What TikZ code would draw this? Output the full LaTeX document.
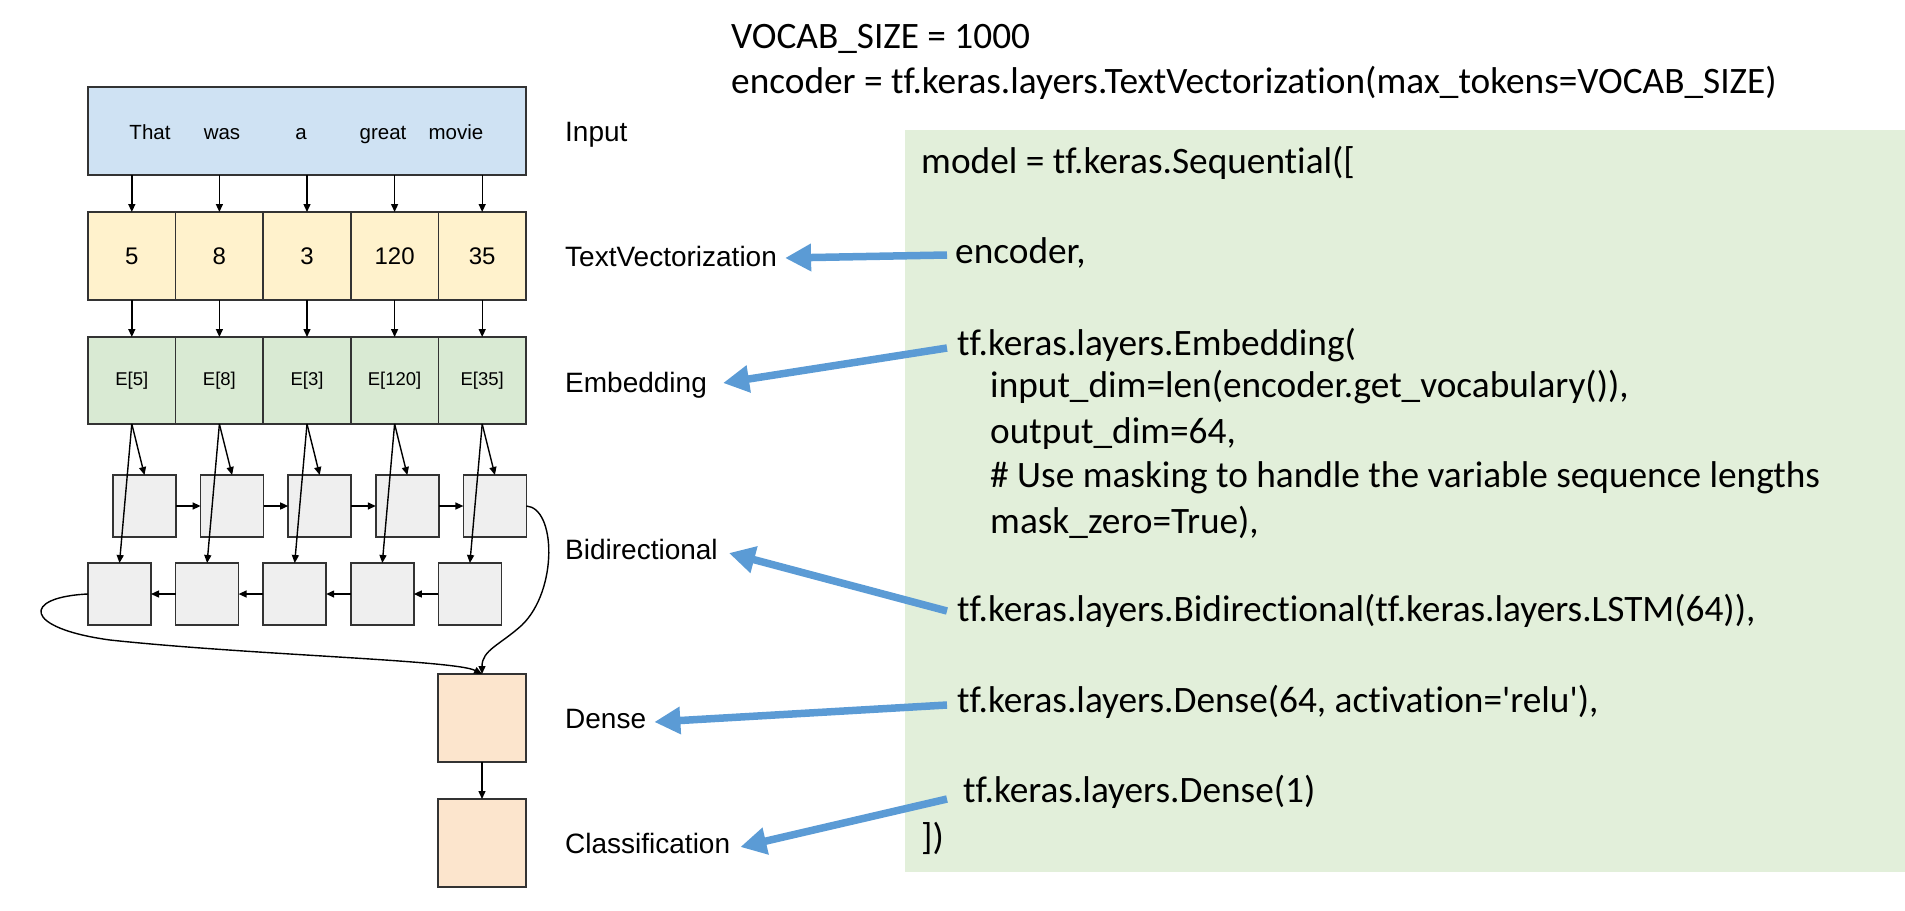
\documentclass[tikz,border=0pt]{standalone}
\usepackage{fontspec}
\setmainfont{Liberation Sans}
\newfontfamily\codefont{Carlito}[Ligatures={NoCommon,TeX}]
\usetikzlibrary{arrows.meta}
\definecolor{inblue}{HTML}{CFE2F3}
\definecolor{tvyel}{HTML}{FFF2CC}
\definecolor{embgr}{HTML}{D9EAD3}
\definecolor{cellgr}{HTML}{EFEFEF}
\definecolor{denseor}{HTML}{FCE5CD}
\definecolor{codebg}{HTML}{E2EFDA}
\definecolor{arrblue}{HTML}{5B9BD5}
\definecolor{edgec}{HTML}{333333}
\tikzset{
  cell/.style={draw=edgec, line width=1.6pt, inner sep=0pt, outer sep=0pt, anchor=north west},
  sq/.style={cell, fill=cellgr, minimum width=63pt, minimum height=62pt},
  word/.style={anchor=base, inner sep=0pt, font=\fontsize{20.5}{24}\selectfont},
  lab/.style={anchor=base west, inner sep=0pt, font=\fontsize{28}{32}\selectfont},
  code/.style={anchor=base west, inner sep=0pt, font=\codefont\fontsize{37.3}{45}\selectfont},
  blk/.style={draw=black, line width=1.4pt, -{Triangle[length=8pt 0 0,width=7pt 0 0]}},
  bluearr/.style={draw=arrblue, line width=7.5pt, -{Triangle[length=26pt 0 0,width=26pt 0 0]}}
}
\begin{document}
\begin{tikzpicture}[x=1pt,y=-1pt]
\useasboundingbox (0,0) rectangle (1905,910);
% code panel
\node[fill=codebg, inner sep=0pt, outer sep=0pt, minimum width=1000pt, minimum height=742pt, anchor=north west] (panel) at (905,130) {};
% top code
\node[code] (cVocab) at (731,48) {VOCAB\_SIZE = 1000};
\node[code] (cEncDef) at (731,93) {encoder = tf.keras.layers.TextVectorization(max\_tokens=VOCAB\_SIZE)};
\node[code] (cModel) at (921,173) {model = tf.keras.Sequential([};
\node[code] (cEnc) at (955,263) {encoder,};
\node[code] (cEmb) at (957,355) {tf.keras.layers.Embedding(};
\node[code] (cIn) at (990,397) {input\_dim=len(encoder.get\_vocabulary()),};
\node[code] (cOut) at (990,443) {output\_dim=64,};
\node[code] (cCom) at (990,487) {\# Use masking to handle the variable sequence lengths};
\node[code] (cMask) at (990,533) {mask\_zero=True),};
\node[code] (cBid) at (957,621) {tf.keras.layers.Bidirectional(tf.keras.layers.LSTM(64)),};
\node[code] (cDense) at (957,712) {tf.keras.layers.Dense(64, activation=\textquotesingle relu\textquotesingle),};
\node[code] (cCls) at (963,802) {tf.keras.layers.Dense(1)};
\node[code] (cEnd) at (921,849) {])};
% input box
\node[cell, fill=inblue, minimum width=438pt, minimum height=88pt] (inp) at (88,87) {};
\node[word] (w1) at (150,139) {That};
\node[word] (w2) at (222,139) {was};
\node[word] (w3) at (301,139) {a};
\node[word] (w4) at (383,139) {great};
\node[word] (w5) at (456,139) {movie};
% vectorization cells
\foreach \i/\t in {1/5,2/8,3/3,4/120,5/35}{
  \node[cell, fill=tvyel, minimum width=87.6pt, minimum height=88pt, font=\fontsize{24}{28}\selectfont] (v\i) at ({88+87.6*(\i-1)},212) {\t};
}
% embedding cells
\foreach \i/\t in {1/5,2/8,3/3,4/120,5/35}{
  \node[cell, fill=embgr, minimum width=87.6pt, minimum height=87pt, font=\fontsize{18.5}{22}\selectfont] (e\i) at ({88+87.6*(\i-1)},337) {E[\t]};
}
% LSTM cells
\foreach \i in {1,...,5}{
  \node[sq] (f\i) at ({113+87.6*(\i-1)},475) {};
  \node[sq] (b\i) at ({88+87.6*(\i-1)},563) {};
}
% dense & classification
\node[cell, fill=denseor, minimum width=88pt, minimum height=88pt] (dense) at (438,674) {};
\node[cell, fill=denseor, minimum width=88pt, minimum height=88pt] (cls) at (438,799) {};
% labels
\node[lab] (lIn) at (565,141) {Input};
\node[lab] (lTV) at (565,266) {TextVectorization};
\node[lab] (lEmb) at (565,392) {Embedding};
\node[lab] (lBid) at (565,559) {Bidirectional};
\node[lab] (lDense) at (565,728) {Dense};
\node[lab] (lCls) at (565,853) {Classification};
% black arrows
\foreach \i in {1,...,5}{
  \draw[blk] (v\i.north |- inp.south) -- (v\i.north);
  \draw[blk] (v\i.south) -- (e\i.north);
  \draw[blk] (e\i.south) -- (f\i.north);
  \draw[blk] (e\i.south) -- (b\i.north);
}
\foreach \i/\j in {1/2,2/3,3/4,4/5}{
  \draw[blk] (f\i.east) -- (f\j.west);
  \draw[blk] (b\j.west) -- (b\i.east);
}
\draw[blk] (b1.west) .. controls (22,597) and (22,628) .. (110,640) .. controls (250,655) and (455,660) .. (dense.north);
\draw[blk] (f5.east) .. controls (556,508) and (558,590) .. (522,625) .. controls (500,645) and (482,650) .. (dense.north);
\draw[blk] (dense.south) -- (cls.north);
% blue arrows
\draw[bluearr] ([xshift=-8pt,yshift=8pt]cEnc.base west) -- ([xshift=8pt,yshift=8pt]lTV.base east);
\draw[bluearr] ([xshift=-10pt,yshift=7pt]cEmb.base west) -- ([xshift=16pt,yshift=9pt]lEmb.base east);
\draw[bluearr] ([xshift=-10pt,yshift=10pt]cBid.base west) -- ([xshift=11pt,yshift=6pt]lBid.base east);
\draw[bluearr] ([xshift=-10pt,yshift=7pt]cDense.base west) -- ([xshift=8pt,yshift=6pt]lDense.base east);
\draw[bluearr] ([xshift=-16pt,yshift=3pt]cCls.base west) -- ([xshift=10pt,yshift=6pt]lCls.base east);
\end{tikzpicture}
\end{document}
